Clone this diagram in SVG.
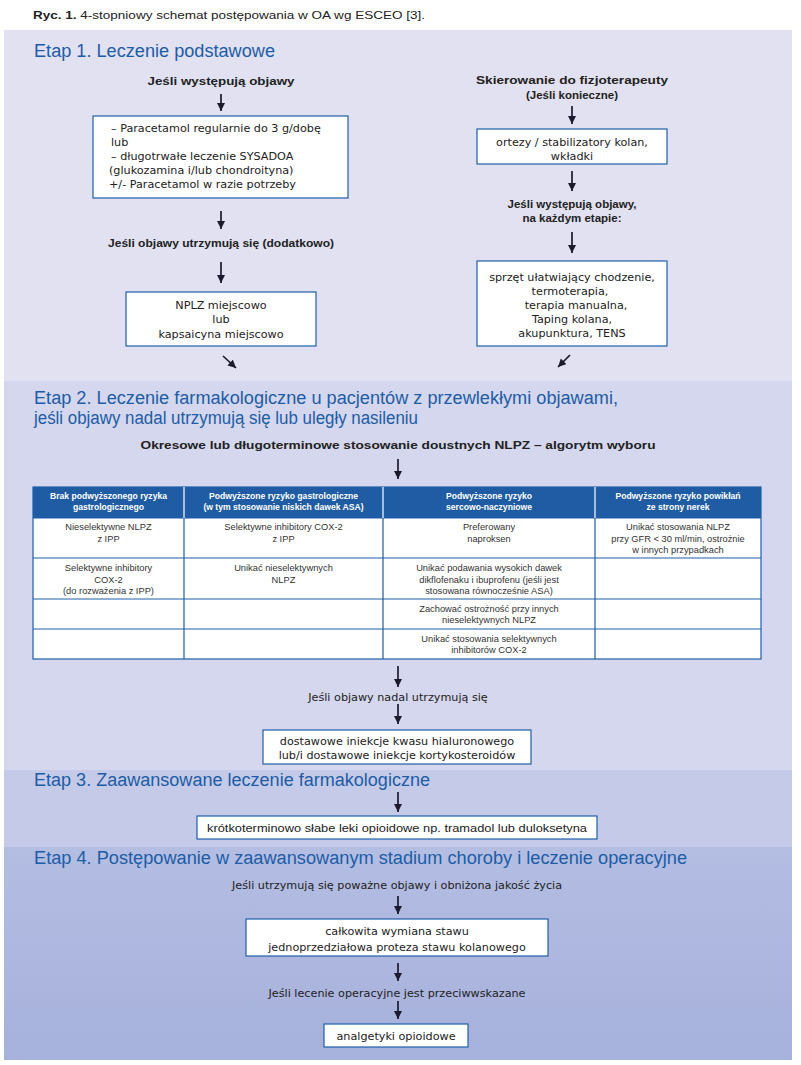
<svg xmlns="http://www.w3.org/2000/svg" width="801" height="1065" viewBox="0 0 801 1065">
<style>
text{font-family:"Liberation Sans",Arial,sans-serif;fill:#222;}
.cap{font-size:11.5px;}
.h{font-size:18px;fill:#1d5ca6;}
.b{font-weight:bold;font-size:11.5px;}
.t{font-size:11.2px;font-family:"DejaVu Sans","Liberation Sans",sans-serif;}
.c{text-anchor:middle;}
.box{fill:#fff;stroke:#1f5fa8;stroke-width:1.2;}
.th{font-size:8.6px;font-weight:bold;fill:#fff;text-anchor:middle;}
.td{font-size:9.3px;fill:#333;text-anchor:middle;}
.grid{stroke:#1f5fa8;stroke-width:1.2;fill:none;}
.arr{stroke:#1c1b2e;stroke-width:1.7;fill:none;marker-end:url(#ah);}
</style>
<defs>
<marker id="ah" markerUnits="userSpaceOnUse" markerWidth="9" markerHeight="9" refX="8" refY="4" orient="auto">
<path d="M0,0 L8,4 L0,8 z" fill="#1c1b2e"/>
</marker>
<linearGradient id="g4" x1="0" y1="0" x2="0" y2="1">
<stop offset="0" stop-color="#b4bde2"/>
<stop offset="1" stop-color="#a6b1dc"/>
</linearGradient>
</defs>
<rect width="801" height="1065" fill="#fff"/>
<g id="bands">
<rect x="4" y="30" width="788" height="351" fill="#e1e1f1"/>
<rect x="4" y="381" width="788" height="389" fill="#d4d7ed"/>
<rect x="4" y="770" width="788" height="77" fill="#c4cae8"/>
<rect x="4" y="847" width="788" height="213" fill="url(#g4)"/>
</g>
<text class="cap" x="33" y="19" textLength="392" lengthAdjust="spacingAndGlyphs"><tspan font-weight="bold">Ryc. 1.</tspan> 4-stopniowy schemat postępowania w OA wg ESCEO  [3].</text>
<g id="headings">
<text class="h" x="34" y="57" textLength="241" lengthAdjust="spacingAndGlyphs">Etap 1. Leczenie podstawowe</text>
<text class="h" x="34" y="404" textLength="584" lengthAdjust="spacingAndGlyphs">Etap 2. Leczenie farmakologiczne u pacjentów z przewlekłymi objawami,</text>
<text class="h" x="34" y="424" textLength="384" lengthAdjust="spacingAndGlyphs">jeśli objawy nadal utrzymują się lub uległy nasileniu</text>
<text class="h" x="34" y="786" textLength="396" lengthAdjust="spacingAndGlyphs">Etap 3. Zaawansowane leczenie farmakologiczne</text>
<text class="h" x="34" y="864" textLength="653" lengthAdjust="spacingAndGlyphs">Etap 4. Postępowanie w  zaawansowanym stadium choroby i leczenie operacyjne</text>
</g>
<g id="connectors">
<line class="arr" x1="221" y1="94" x2="221" y2="111"/>
<line class="arr" x1="221" y1="211" x2="221" y2="229"/>
<line class="arr" x1="221" y1="262" x2="221" y2="283"/>
<line class="arr" x1="223" y1="356" x2="236" y2="368"/>
<line class="arr" x1="572" y1="106" x2="572" y2="124"/>
<line class="arr" x1="572" y1="171" x2="572" y2="191"/>
<line class="arr" x1="572" y1="232" x2="572" y2="253"/>
<line class="arr" x1="570" y1="355" x2="558" y2="367"/>
<line class="arr" x1="398" y1="459" x2="398" y2="479"/>
<line class="arr" x1="398" y1="666" x2="398" y2="687"/>
<line class="arr" x1="398" y1="704" x2="398" y2="724"/>
<line class="arr" x1="398" y1="792" x2="398" y2="812"/>
<line class="arr" x1="398" y1="896" x2="398" y2="914"/>
<line class="arr" x1="398" y1="963" x2="398" y2="981"/>
<line class="arr" x1="398" y1="1001" x2="398" y2="1019"/>
</g>
<g id="n1-cond">
<text class="b c" x="221" y="85" textLength="147" lengthAdjust="spacingAndGlyphs">Jeśli występują objawy</text>
</g>
<g id="n1-box">
<rect class="box" x="93" y="116" width="255" height="82"/>
<text class="t" x="111" y="132">– Paracetamol regularnie do 3 g/dobę</text>
<text class="t" x="111" y="146">lub</text>
<text class="t" x="111" y="160">– długotrwałe leczenie SYSADOA</text>
<text class="t" x="109" y="174">(glukozamina i/lub chondroityna)</text>
<text class="t" x="109" y="188">+/- Paracetamol w razie potrzeby</text>
</g>
<g id="n1-cond2">
<text class="b c" x="221" y="247" textLength="226" lengthAdjust="spacingAndGlyphs">Jeśli objawy utrzymują się (dodatkowo)</text>
</g>
<g id="n1-box2">
<rect class="box" x="126" y="292" width="190" height="54"/>
<text class="t c" x="221" y="309">NPLZ miejscowo</text>
<text class="t c" x="221" y="323">lub</text>
<text class="t c" x="221" y="338">kapsaicyna miejscowo</text>
</g>
<g id="n1-fizjo">
<text class="b c" x="572" y="84" textLength="192" lengthAdjust="spacingAndGlyphs">Skierowanie do fizjoterapeuty</text>
<text class="b c" x="572" y="99">(Jeśli konieczne)</text>
</g>
<g id="n1-box3">
<rect class="box" x="477" y="129" width="190" height="35"/>
<text class="t c" x="572" y="146">ortezy / stabilizatory kolan,</text>
<text class="t c" x="572" y="160">wkładki</text>
</g>
<g id="n1-cond3">
<text class="b c" x="572" y="208">Jeśli występują objawy,</text>
<text class="b c" x="572" y="222">na każdym etapie:</text>
</g>
<g id="n1-box4">
<rect class="box" x="477" y="261" width="190" height="85"/>
<text class="t c" x="572" y="281">sprzęt ułatwiający chodzenie,</text>
<text class="t c" x="570" y="295">termoterapia,</text>
<text class="t c" x="576" y="309">terapia manualna,</text>
<text class="t c" x="572" y="323">Taping kolana,</text>
<text class="t c" x="572" y="337">akupunktura, TENS</text>
</g>
<g id="n2-title">
<text class="b c" x="398" y="449" textLength="515" lengthAdjust="spacingAndGlyphs">Okresowe lub długoterminowe stosowanie doustnych NLPZ – algorytm wyboru</text>
</g>
<g id="n2-table">
<rect x="33" y="487" width="728" height="31" fill="#1f5ca3"/>
<rect x="33" y="518" width="728" height="141" fill="#fff"/>
<rect class="grid" x="33" y="487" width="728" height="172"/>
<path class="grid" d="M33,518H761M33,558H761M33,599H761M33,629H761"/>
<path d="M184,518V659M383,518V659M595,518V659" stroke="#1f5ca3" stroke-width="1.2"/>
<path d="M184,487V518M383,487V518M595,487V518" stroke="#fff" stroke-width="1.2"/>
<text class="th" x="108.5" y="499">Brak podwyższonego ryzyka</text>
<text class="th" x="108.5" y="510">gastrologicznego</text>
<text class="th" x="283.5" y="499">Podwyższone ryzyko gastrologiczne</text>
<text class="th" x="283.5" y="510">(w tym stosowanie niskich dawek ASA)</text>
<text class="th" x="489" y="499">Podwyższone ryzyko</text>
<text class="th" x="489" y="510">sercowo-naczyniowe</text>
<text class="th" x="678" y="499">Podwyższone ryzyko powikłań</text>
<text class="th" x="678" y="510">ze strony nerek</text>
<text class="td" x="108.5" y="530">Nieselektywne NLPZ</text>
<text class="td" x="108.5" y="542">z IPP</text>
<text class="td" x="283.5" y="530">Selektywne inhibitory COX-2</text>
<text class="td" x="283.5" y="542">z IPP</text>
<text class="td" x="489" y="530">Preferowany</text>
<text class="td" x="489" y="542">naproksen</text>
<text class="td" x="678" y="530">Unikać stosowania NLPZ</text>
<text class="td" x="678" y="542">przy GFR &lt; 30 ml/min, ostrożnie</text>
<text class="td" x="678" y="553">w innych przypadkach</text>
<text class="td" x="108.5" y="571">Selektywne inhibitory</text>
<text class="td" x="108.5" y="583">COX-2</text>
<text class="td" x="108.5" y="594">(do rozważenia z IPP)</text>
<text class="td" x="283.5" y="571">Unikać nieselektywnych</text>
<text class="td" x="283.5" y="583">NLPZ</text>
<text class="td" x="489" y="571">Unikać podawania wysokich dawek</text>
<text class="td" x="489" y="583">dikflofenaku i ibuprofenu (jeśli jest</text>
<text class="td" x="489" y="594">stosowana równocześnie ASA)</text>
<text class="td" x="489" y="612">Zachować ostrożność przy innych</text>
<text class="td" x="489" y="623">nieselektywnych NLPZ</text>
<text class="td" x="489" y="642">Unikać stosowania selektywnych</text>
<text class="td" x="489" y="653">inhibitorów COX-2</text>
</g>
<g id="n2-cond">
<text class="t c" x="398" y="701">Jeśli objawy nadal utrzymują się</text>
</g>
<g id="n2-box">
<rect class="box" x="263" y="730" width="268" height="34"/>
<text class="t c" x="397" y="745">dostawowe iniekcje kwasu hialuronowego</text>
<text class="t c" x="397" y="759">lub/i dostawowe iniekcje kortykosteroidów</text>
</g>
<g id="n3-box">
<rect class="box" x="197" y="816" width="400" height="23"/>
<text class="c" x="397" y="832" font-size="11.5" textLength="380" lengthAdjust="spacingAndGlyphs">krótkoterminowo słabe leki opioidowe np. tramadol lub duloksetyna</text>
</g>
<g id="n4-cond">
<text class="t c" x="397" y="889" textLength="330" lengthAdjust="spacingAndGlyphs">Jeśli utrzymują się poważne objawy i obniżona jakość życia</text>
</g>
<g id="n4-box">
<rect class="box" x="246" y="919" width="302" height="37"/>
<text class="t c" x="397" y="935">całkowita wymiana stawu</text>
<text class="t c" x="397" y="951">jednoprzedziałowa proteza stawu kolanowego</text>
</g>
<g id="n4-cond2">
<text class="t c" x="397" y="997" textLength="257" lengthAdjust="spacingAndGlyphs">Jeśli lecenie operacyjne jest przeciwwskazane</text>
</g>
<g id="n4-box2">
<rect class="box" x="324" y="1024" width="144" height="23"/>
<text class="t c" x="396" y="1040">analgetyki opioidowe</text>
</g>
</svg>
